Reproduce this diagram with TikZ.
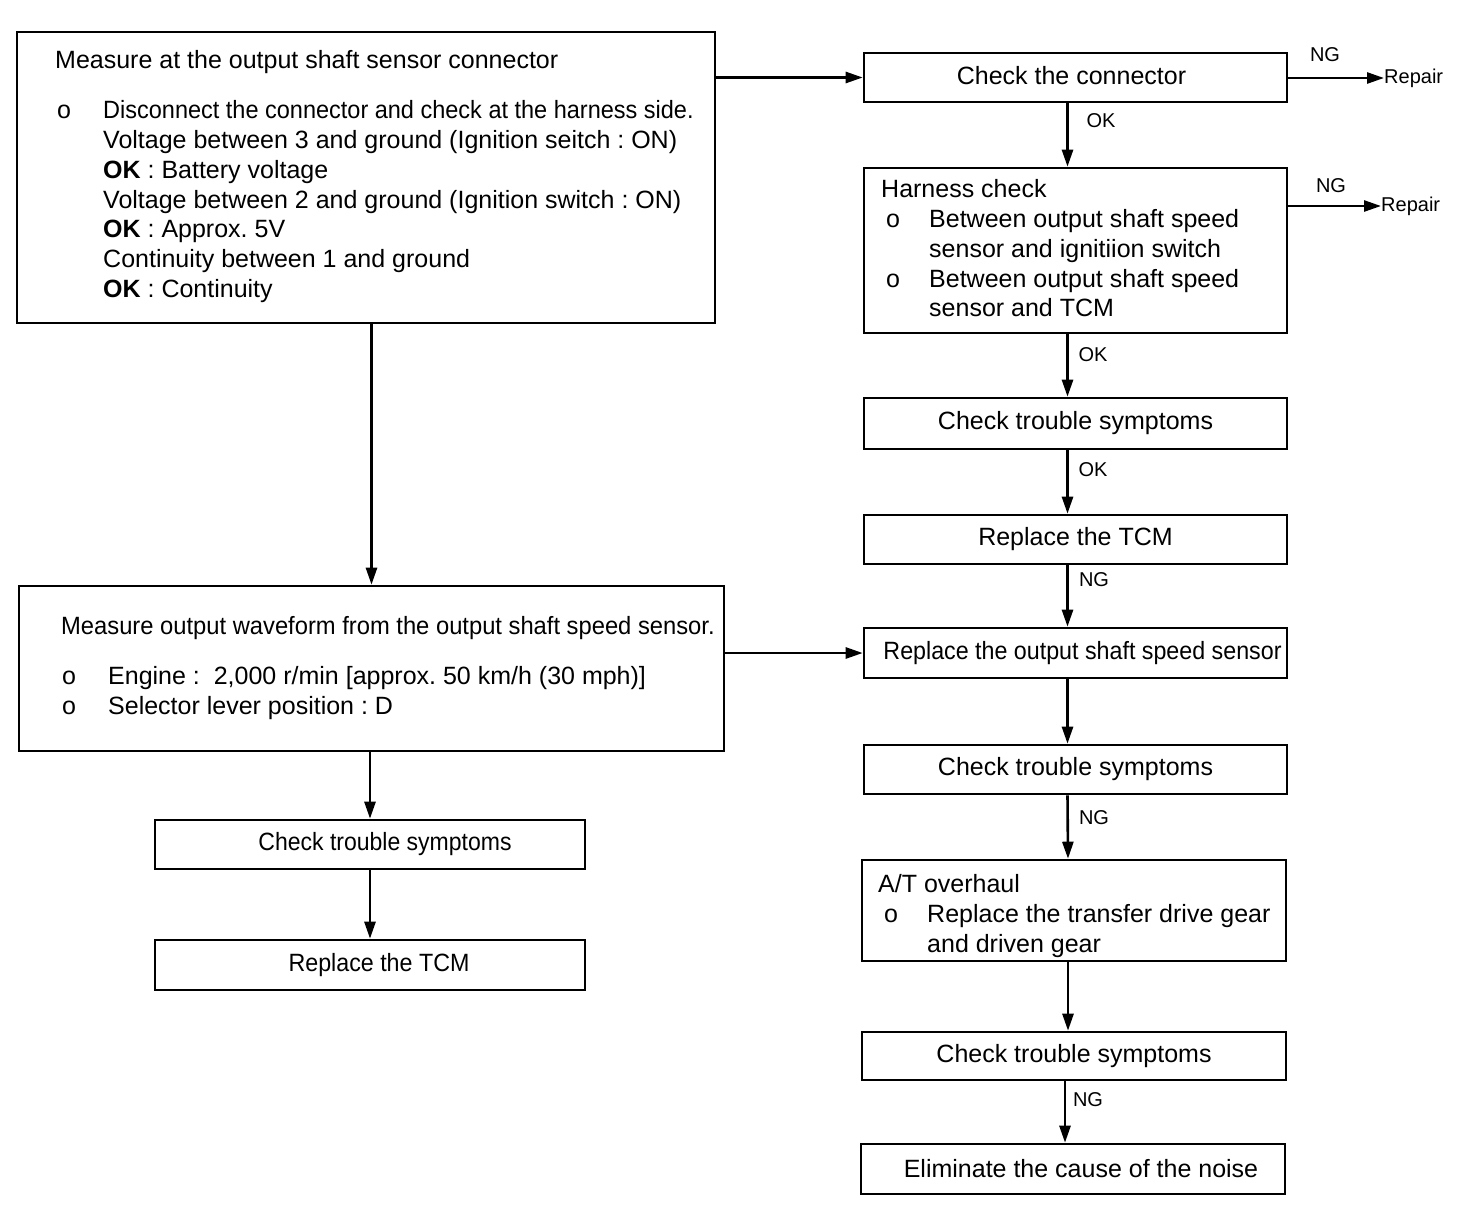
\documentclass[tikz,border=0pt]{standalone}
\usepackage{fontspec}
\setmainfont{Liberation Sans}
\usetikzlibrary{arrows.meta}
\frenchspacing
\newcommand\bigf{\fontsize{25}{30}\selectfont}
\newcommand\smallf{\fontsize{20}{23}\selectfont}
\tikzset{
  box/.style={draw, line width=2.6pt, inner sep=0pt, font=\bigf},
  txt/.style={inner sep=0pt, font=\bigf, anchor=base west},
  lbl/.style={inner sep=0pt, font=\smallf},
  arr/.style={line width=2.6pt, -{Triangle[length=17pt,width=11pt]}},
}
\newcommand\cond[2]{\scalebox{#1}[1]{#2}}
\begin{document}
\frenchspacing
\begin{tikzpicture}[x=1pt,y=-1pt]
\useasboundingbox (0,0) rectangle (1472,1226);
% boxes
\node[box, minimum width=698pt, minimum height=291pt] (A) at (366,177.5) {};
\node[box, minimum width=705pt, minimum height=165pt] (B) at (371.5,668.5) {};
\node[box, minimum width=423pt, minimum height=49pt] (c1) at (1075.5,77.5) {\raisebox{4pt}{\hspace*{-8pt}Check the connector}};
\node[box, minimum width=423pt, minimum height=165pt] (h) at (1075.5,250.5) {};
\node[box, minimum width=423pt, minimum height=51pt] (t1) at (1075.5,423.5) {Check trouble symptoms};
\node[box, minimum width=423pt, minimum height=49pt] (r1) at (1075.5,539.5) {Replace the TCM};
\node[box, minimum width=423pt, minimum height=50pt] (s) at (1075.5,653) {\hspace*{14pt}\cond{0.93}{Replace the output shaft speed sensor}};
\node[box, minimum width=423pt, minimum height=49pt] (t2) at (1075.5,769.5) {Check trouble symptoms};
\node[box, minimum width=424pt, minimum height=101pt] (at) at (1074,910.5) {};
\node[box, minimum width=424pt, minimum height=48pt] (t3) at (1074,1056) {Check trouble symptoms};
\node[box, minimum width=424pt, minimum height=50pt] (e) at (1073,1169) {\hspace*{16pt}Eliminate the cause of the noise};
\node[box, minimum width=430pt, minimum height=49pt] (l1) at (370,844.5) {\hspace*{30pt}\cond{0.92}{Check trouble symptoms}};
\node[box, minimum width=430pt, minimum height=50pt] (l2) at (370,965) {\hspace*{18pt}\cond{0.93}{Replace the TCM}};
% text of box A
\node[txt] (a1) at (55,68) {Measure at the output shaft sensor connector};
\node[txt] (ab1) at (57,118) {o};
\node[txt] (a2) at (103,118) {\cond{0.94}{Disconnect the connector and check at the harness side.}};
\node[txt] (a3) at (103,148) {Voltage between 3 and ground (Ignition seitch : ON)};
\node[txt] (a4) at (103,178) {\textbf{OK} : Battery voltage};
\node[txt] (a5) at (103,208) {Voltage between 2 and ground (Ignition switch : ON)};
\node[txt] (a6) at (103,237) {\textbf{OK} : Approx. 5V};
\node[txt] (a7) at (103,267) {Continuity between 1 and ground};
\node[txt] (a8) at (103,297) {\textbf{OK} : Continuity};
% text of box B
\node[txt] (b1) at (61,634) {\cond{0.95}{Measure output waveform from the output shaft speed sensor.}};
\node[txt] (bb1) at (62,684) {o};
\node[txt] (b2) at (108,684) {Engine :\ \ 2,000 r/min [approx. 50 km/h (30 mph)]};
\node[txt] (bb2) at (62,714) {o};
\node[txt] (b3) at (108,714) {Selector lever position : D};
% harness check text
\node[txt] (h1) at (881,197) {Harness check};
\node[txt] (hb1) at (886,227) {o};
\node[txt] (h2) at (929,227) {Between output shaft speed};
\node[txt] (h3) at (929,257) {sensor and ignitiion switch};
\node[txt] (hb2) at (886,287) {o};
\node[txt] (h4) at (929,287) {Between output shaft speed};
\node[txt] (h5) at (929,316) {sensor and TCM};
% A/T overhaul text
\node[txt] (o1) at (878,892) {A/T overhaul};
\node[txt] (ob1) at (884,922) {o};
\node[txt] (o2) at (927,922) {Replace the transfer drive gear};
\node[txt] (o3) at (927,952) {and driven gear};
% repair nodes
\node[lbl, anchor=west] (rep1) at (1384,78) {Repair};
\node[lbl, anchor=west] (rep2) at (1381,206) {Repair};
% arrows
\draw[arr] (A.east |- c1.west) -- (c1.west);
\draw[arr] (A.south -| B.north) -- (B.north);
\draw[arr] (c1.east |- rep1.west) -- (rep1.west);
\draw[arr] (h.east |- rep2.west) -- (rep2.west);
\draw[arr] ([xshift=-8pt]c1.south) -- ([xshift=-8pt]h.north);
\draw[arr] ([xshift=-8pt]h.south) -- ([xshift=-8pt]t1.north);
\draw[arr] ([xshift=-8pt]t1.south) -- ([xshift=-8pt]r1.north);
\draw[arr] ([xshift=-8pt]r1.south) -- ([xshift=-8pt]s.north);
\draw[arr] (B.east |- s.west) -- (s.west);
\draw[arr] ([xshift=-8pt]s.south) -- ([xshift=-8pt]t2.north);
\draw[arr] ([xshift=-8pt]t2.south) -- ([xshift=-6pt]at.north);
\draw[arr] ([xshift=-6pt]at.south) -- ([xshift=-6pt]t3.north);
\draw[arr] ([xshift=-9pt]t3.south) -- ([xshift=-8pt]e.north);
\draw[arr] (B.south -| l1.north) -- (l1.north);
\draw[arr] (l1.south) -- (l2.north);
% labels
\node[lbl] (ng1) at (1325,55) {NG};
\node[lbl] (ng2) at (1331,186) {NG};
\node[lbl] (ok1) at (1101,121) {OK};
\node[lbl] (ok2) at (1093,355) {OK};
\node[lbl] (ok3) at (1093,470) {OK};
\node[lbl] (ng3) at (1094,580) {NG};
\node[lbl] (ng4) at (1094,818) {NG};
\node[lbl] (ng5) at (1088,1100) {NG};
\end{tikzpicture}
\end{document}
